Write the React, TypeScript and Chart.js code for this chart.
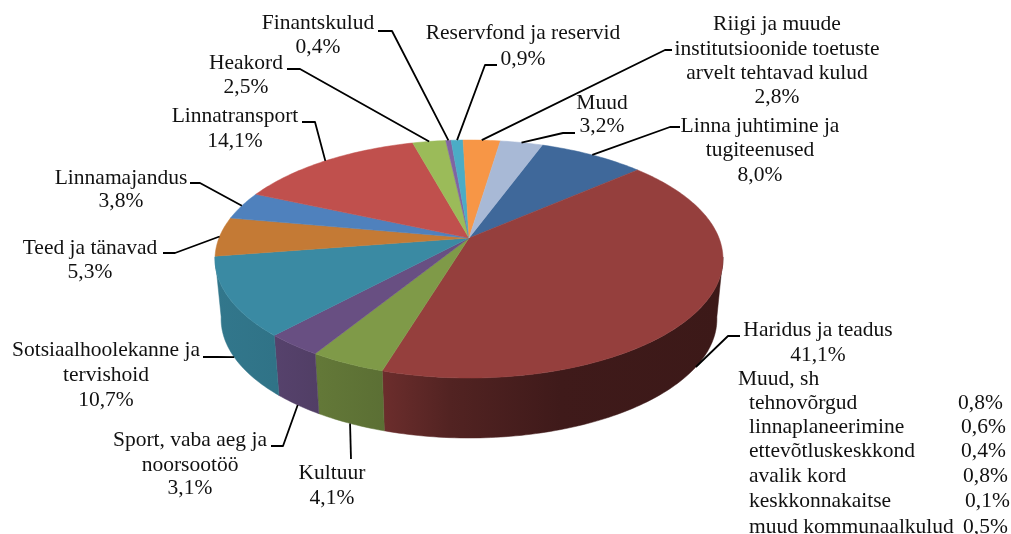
import React, { useEffect, useRef } from "react";
import { Chart, registerables } from "chart.js";

Chart.register(...registerables);

// ---- data ----
const categories = [
  "Linna juhtimine ja tugiteenused",
  "Haridus ja teadus",
  "Kultuur",
  "Sport, vaba aeg ja noorsootöö",
  "Sotsiaalhoolekanne ja tervishoid",
  "Teed ja tänavad",
  "Linnamajandus",
  "Linnatransport",
  "Heakord",
  "Finantskulud",
  "Reservfond ja reservid",
  "Riigi ja muude institutsioonide toetuste arvelt tehtavad kulud",
  "Muud",
];
const shares = [8.0, 41.1, 4.1, 3.1, 10.7, 5.3, 3.8, 14.1, 2.5, 0.4, 0.9, 2.8, 3.2];
const otherTitle = "Muud, sh";
const otherItems = ["tehnovõrgud", "linnaplaneerimine", "ettevõtluskeskkond", "avalik kord", "keskkonnakaitse", "muud kommunaalkulud"];
const otherShares = ["0,8%", "0,6%", "0,4%", "0,8%", "0,1%", "0,5%"];

// ---- styles ----
const sliceColors = [
  "#3F689A", "#953F3D", "#7F9A48", "#684F82", "#3A8AA3", "#C47A35", "#4F81BD",
  "#C0504D", "#9BBB59", "#8064A2", "#4BACC6", "#F79646", "#A8B9D6",
];
const FONT = '21.5px "Liberation Serif", serif';

// ---- layout ----
const ROTATION = 20;
const CX = 469;
const TOP_Y = 238;
const BOTTOM_Y = 298;
const K = -0.1765;
const AY = 115.3;
const TOP_C = 250;
const BOTTOM_C = 244;
const WALL_MIN_SIN = 0.16;
const TEXT_DY = 0.5;
const shadeStops: [number, number][] = [
  [215, 0.86], [275, 0.83], [320, 0.78], [385, 0.72], [450, 0.55], [560, 0.42], [723, 0.4],
];

// per slice: wrapped label lines, label centre x, line centre ys, leader points from the label side
const labelLayout: { lines: string[]; x: number; ys: number[]; leader: [number, number][] }[] = [
  { lines: ["Linna juhtimine ja", "tugiteenused"], x: 760, ys: [126, 150, 175], leader: [[680, 127], [670, 127]] },
  { lines: ["Haridus ja teadus"], x: 818, ys: [330, 355], leader: [[740, 336], [728, 336]] },
  { lines: ["Kultuur"], x: 332, ys: [473, 498], leader: [[351, 459]] },
  { lines: ["Sport, vaba aeg ja", "noorsootöö"], x: 190, ys: [440, 465, 488], leader: [[271, 446], [283, 446]] },
  { lines: ["Sotsiaalhoolekanne ja", "tervishoid"], x: 106, ys: [350, 375, 400], leader: [[203, 357], [217, 357]] },
  { lines: ["Teed ja tänavad"], x: 90, ys: [248, 272], leader: [[163, 253], [175, 253]] },
  { lines: ["Linnamajandus"], x: 121, ys: [178, 201], leader: [[190, 183], [200, 183]] },
  { lines: ["Linnatransport"], x: 235, ys: [116, 141], leader: [[302, 122], [315, 122]] },
  { lines: ["Heakord"], x: 246, ys: [63, 87], leader: [[287, 69], [300, 69]] },
  { lines: ["Finantskulud"], x: 318, ys: [23, 47], leader: [[378, 31], [392, 31]] },
  { lines: ["Reservfond ja reservid"], x: 523, ys: [33, 59], leader: [[497, 65], [485, 65]] },
  { lines: ["Riigi ja muude", "institutsioonide toetuste", "arvelt tehtavad kulud"], x: 777, ys: [24, 49, 73, 97], leader: [[672, 50], [665, 50]] },
  { lines: ["Muud"], x: 602, ys: [103, 126], leader: [[575, 133], [563, 133]] },
];
const tableTitlePos = { x: 738, y: 379 };
const tableRowX = 749;
const tableRowYs = [403, 427, 451, 476, 501, 527];
const tableValueXs = [958, 961, 961, 963, 965, 963];

// ---- projection of the arc angle onto the tilted pie ----
function project(angle: number, bottom: boolean): [number, number] {
  const u = Math.cos(angle);
  const v = Math.sin(angle);
  const w = 1 + K * v;
  return [CX + ((bottom ? BOTTOM_C : TOP_C) * u) / w, (bottom ? BOTTOM_Y : TOP_Y) + (AY * v) / w];
}

function rgb(hex: string): number[] {
  return [1, 3, 5].map((i) => parseInt(hex.slice(i, i + 2), 16));
}

function rimPoints(start: number, end: number, bottom: boolean) {
  const n = Math.max(2, Math.ceil(((end - start) * 180) / Math.PI));
  const pts: [number, number][] = [];
  for (let i = 0; i <= n; i++) pts.push(project(start + ((end - start) * i) / n, bottom));
  return pts;
}

const pie3d = {
  id: "pie3d",
  beforeDatasetsDraw(chart: any) {
    const ctx: CanvasRenderingContext2D = chart.ctx;
    const arcs = chart.getDatasetMeta(0).data;
    const colors: string[] = chart.data.datasets[0].backgroundColor;
    const values: number[] = chart.data.datasets[0].data;
    ctx.save();

    // front-facing side walls only
    const L = shadeStops[0][0];
    const R = shadeStops[shadeStops.length - 1][0];
    const wallLo = Math.asin(WALL_MIN_SIN);
    const wallHi = Math.PI - wallLo;
    arcs.forEach((a: any, i: number) => {
      const lo = Math.max(a.startAngle, wallLo);
      const hi = Math.min(a.endAngle, wallHi);
      if (hi <= lo) return;
      const [r, g, b] = rgb(colors[i]);
      const grad = ctx.createLinearGradient(L, 0, R, 0);
      shadeStops.forEach(([x, f]) =>
        grad.addColorStop((x - L) / (R - L), `rgb(${r * f},${g * f},${b * f})`),
      );
      const top = rimPoints(lo, hi, false);
      const bot = rimPoints(lo, hi, true).reverse();
      ctx.beginPath();
      [...top, ...bot].forEach(([x, y], j) => (j ? ctx.lineTo(x, y) : ctx.moveTo(x, y)));
      ctx.closePath();
      ctx.fillStyle = grad;
      ctx.strokeStyle = grad;
      ctx.lineWidth = 0.5;
      ctx.fill();
      ctx.stroke();
    });

    // top faces
    arcs.forEach((a: any, i: number) => {
      ctx.beginPath();
      ctx.moveTo(CX, TOP_Y);
      rimPoints(a.startAngle, a.endAngle, false).forEach(([x, y]) => ctx.lineTo(x, y));
      ctx.closePath();
      ctx.fillStyle = colors[i];
      ctx.strokeStyle = colors[i];
      ctx.lineWidth = 0.5;
      ctx.fill();
      ctx.stroke();
    });

    // leaders and labels
    ctx.font = FONT;
    ctx.fillStyle = "#111";
    ctx.textBaseline = "middle";
    ctx.textAlign = "center";
    arcs.forEach((a: any, i: number) => {
      const layout = labelLayout[i];
      const mid = (a.startAngle + a.endAngle) / 2;
      const end = project(mid, Math.sin(mid) > 0.1);
      ctx.beginPath();
      layout.leader.forEach(([x, y], j) => (j ? ctx.lineTo(x, y) : ctx.moveTo(x, y)));
      ctx.lineTo(end[0], end[1]);
      ctx.strokeStyle = "#000";
      ctx.lineWidth = 1.8;
      ctx.lineJoin = "round";
      ctx.stroke();

      const pct = values[i].toFixed(1).replace(".", ",") + "%";
      [...layout.lines, pct].forEach((t, j) => ctx.fillText(t, layout.x, layout.ys[j] + TEXT_DY));
    });

    // sub-table
    ctx.textAlign = "left";
    ctx.fillText(otherTitle, tableTitlePos.x, tableTitlePos.y + TEXT_DY);
    otherItems.forEach((t, i) => {
      ctx.fillText(t, tableRowX, tableRowYs[i] + TEXT_DY);
      ctx.fillText(otherShares[i], tableValueXs[i], tableRowYs[i] + TEXT_DY);
    });
    ctx.restore();
    return false;
  },
};

export default function App() {
  const ref = useRef<HTMLCanvasElement>(null);
  useEffect(() => {
    const chart = new Chart(ref.current!, {
      type: "pie",
      data: {
        labels: categories,
        datasets: [{ data: shares, backgroundColor: sliceColors, borderWidth: 0 }],
      },
      options: {
        animation: false,
        responsive: false,
        rotation: ROTATION,
        plugins: { legend: { display: false }, tooltip: { enabled: false } },
      },
      plugins: [pie3d],
    } as any);
    return () => chart.destroy();
  }, []);
  return (
    <div style={{ position: "absolute", left: 0, top: 0, background: "#fff" }}>
      <canvas ref={ref} width={1011} height={534} style={{ display: "block" }} />
    </div>
  );
}
